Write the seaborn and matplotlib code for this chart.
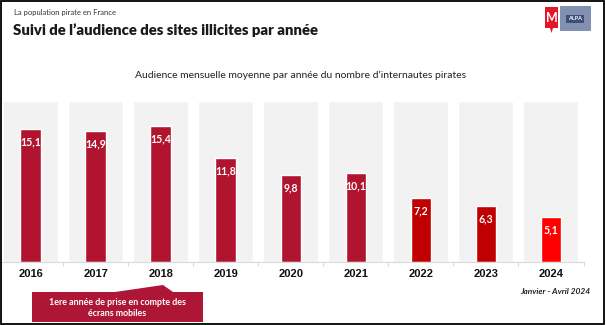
import matplotlib
matplotlib.use("Agg")
import matplotlib.pyplot as plt
import seaborn as sns
import pandas as pd
from matplotlib.patches import Rectangle, Polygon

# ---- data ----
years = ["2016", "2017", "2018", "2019", "2020", "2021", "2022", "2023", "2024"]
audience = [15.1, 14.9, 15.4, 11.8, 9.8, 10.1, 7.2, 6.3, 5.1]
value_labels = ["15,1", "14,9", "15,4", "11,8", "9,8", "10,1", "7,2", "6,3", "5,1"]
bar_colors = ["#B0142F"] * 6 + ["#C00000", "#C00000", "#FF0000"]

kicker = "La population pirate en France"
title = "Suivi de l\u2019audience des sites illicites par année"
chart_subtitle = "Audience mensuelle moyenne par année du nombre d\u2019internautes pirates"
note = "1ere année de prise en compte des\nécrans mobiles"
period = "Janvier - Avril 2024"

sns.set_theme(style="white")
plt.rcParams["font.family"] = ["Lato", "DejaVu Sans"]

W, H = 606, 325
fig = plt.figure(figsize=(W / 100, H / 100), dpi=100)


def px(x, y):
    return (x / W, 1 - y / H)


# axes placement (pixel based)
ax_left, ax_right = -2, 583.5
ax_top, ax_bottom = 100.7, 261.7
ax = fig.add_axes([ax_left / W, 1 - ax_bottom / H, (ax_right - ax_left) / W, (ax_bottom - ax_top) / H])

ymax = 18.3
df = pd.DataFrame({"year": years, "audience": audience})

# background panels
ax.bar(range(len(years)), [ymax] * len(years), width=0.846, color="#F2F2F2", zorder=0)

sns.barplot(data=df, x="year", y="audience", hue="year", palette=bar_colors,
            width=0.315, legend=False, ax=ax, zorder=2, saturation=1)

for i, (v, lab) in enumerate(zip(audience, value_labels)):
    ax.text(i, v - 1.45, lab, ha="center", va="center", color="white",
            fontsize=7.6, fontweight="bold", zorder=3)

ax.set_xlim(-0.5, len(years) - 0.5)
ax.set_ylim(0, ymax)
ax.set_xlabel("")
ax.set_ylabel("")
ax.set_yticks([])
for s in ["top", "right", "left"]:
    ax.spines[s].set_visible(False)
ax.spines["bottom"].set_color("#D9D9D9")
ax.spines["bottom"].set_linewidth(0.8)
ax.set_xticks([i + 0.5 for i in range(len(years))], minor=True)
ax.tick_params(axis="x", which="major", length=0, pad=5)
ax.tick_params(axis="x", which="minor", length=3, color="#D9D9D9", width=0.8, bottom=True)
for t in ax.get_xticklabels():
    t.set_fontfamily(["Liberation Sans", "DejaVu Sans"])
    t.set_fontweight("bold")
    t.set_fontsize(8)
    t.set_color("#111111")

# ---- header texts ----
fig.text(*px(14, 12.7), kicker, fontsize=5.5, color="#333333", va="center", ha="left")
fig.text(*px(13, 35), title, fontsize=10.7, fontweight="heavy", color="#1A1A1A",
         va="baseline", ha="left")
fig.text(*px(301, 75.5), chart_subtitle, fontsize=7.5, color="#222222", va="center", ha="center")

# ---- annotation box ----
box = Polygon([px(32, 292), px(115, 292), px(163, 285), px(173, 292), px(203, 292),
               px(203, 322), px(32, 322)], closed=True, transform=fig.transFigure,
              facecolor="#AE1636", edgecolor="none")
fig.patches.append(box)
fig.text(*px(117.5, 308), note, fontsize=6.4, fontweight="bold", color="white",
         ha="center", va="center", linespacing=1.3)

fig.text(*px(590, 292), period, fontsize=6, fontweight="bold", fontstyle="italic",
         color="#222222", ha="right", va="center")

# ---- logos ----
m_logo = Polygon([px(545, 7), px(558, 7), px(558, 28), px(553, 28), px(551.5, 33),
                  px(550, 28), px(545, 28)], closed=True, transform=fig.transFigure,
                 facecolor="#E3152B", edgecolor="none")
fig.patches.append(m_logo)
fig.text(*px(551.5, 18), "M", fontsize=9, fontweight="bold", color="white",
         ha="center", va="center")
alpa = Rectangle(px(560, 30), 30 / W, 24 / H, transform=fig.transFigure,
                 facecolor="#8291B0", edgecolor="#6A7AA0", linewidth=0.5)
fig.patches.append(alpa)
fig.patches.append(Rectangle(px(566, 23), 18 / W, 8 / H, transform=fig.transFigure,
                             facecolor="#3D4F7A", edgecolor="none"))
fig.text(*px(575, 19), "ALPA", fontsize=4, fontweight="bold", color="white",
         ha="center", va="center")

# ---- outer frame ----
frame = Rectangle(px(1.2, 323.5), (604 - 1.2) / W, (323.5 - 0.8) / H, transform=fig.transFigure,
                  facecolor="none", edgecolor="black", linewidth=1.3)
fig.patches.append(frame)

fig.savefig("out.png", dpi=100, facecolor="white")
